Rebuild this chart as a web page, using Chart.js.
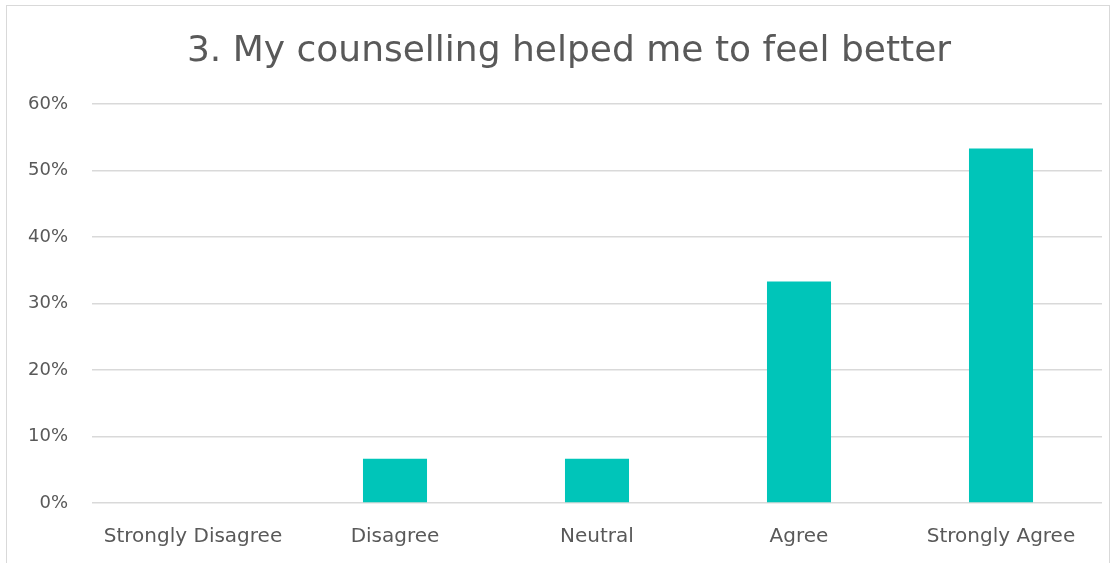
<!DOCTYPE html>
<html>
<head>
<meta charset="utf-8">
<script src="https://cdn.jsdelivr.net/npm/chart.js@4"></script>
<style>
  html, body { margin: 0; padding: 0; background: #fff; }
  #frame {
    position: absolute; left: 6px; top: 5px; width: 1104px; height: 600px;
    border: 1px solid #d9d9d9; box-sizing: border-box;
  }
  #wrap { position: absolute; left: 0; top: 0; width: 1119px; height: 563px; }
</style>
</head>
<body>
<div id="frame"></div>
<div id="wrap"><canvas id="myChart"></canvas></div>
<script>
const categories = ['Strongly Disagree', 'Disagree', 'Neutral', 'Agree', 'Strongly Agree'];
const percents = [0, 6.67, 6.67, 33.33, 53.33];
const yTicks = [0, 10, 20, 30, 40, 50, 60];
const chartTitle = '3. My counselling helped me to feel better';

const textColor = '#595959';
const fontFamily = '"DejaVu Sans", sans-serif';

const ctx = document.getElementById("myChart");

// the original title sits a bit right of centre
const nudgeTitle = {
    id: 'nudgeTitle',
    afterLayout(chart) {
        if (chart.titleBlock) chart.titleBlock.left += 36;
    }
};

new Chart(ctx, {
    type: 'bar',
    data: {
        labels: categories,
        datasets: [{
            label: 'Responses',
            data: percents,
            backgroundColor: '#00c5b9',
            borderWidth: 0,
            categoryPercentage: 1,
            barPercentage: 0.317
        }]
    },
    options: {
        responsive: true,
        maintainAspectRatio: false,
        animation: false,
        layout: { padding: { left: 0, right: 17, top: 0, bottom: 0 } },
        plugins: {
            legend: { display: false },
            tooltip: { enabled: false },
            title: {
                display: true,
                text: chartTitle,
                color: textColor,
                font: { family: fontFamily, size: 36, weight: 'normal', lineHeight: 1.2 },
                padding: { top: 30, bottom: 31 }
            }
        },
        scales: {
            x: {
                grid: { display: false },
                border: { display: false },
                ticks: {
                    color: textColor,
                    font: { family: fontFamily, size: 20 },
                    padding: 14,
                    maxRotation: 0
                },
                afterFit: (scale) => { scale.height = 60; }
            },
            y: {
                min: 0,
                max: 60,
                afterBuildTicks: (scale) => {
                    scale.ticks = yTicks.map(v => ({ value: v }));
                },
                grid: { color: '#d9d9d9', lineWidth: 1.5, drawTicks: false },
                border: { display: false },
                ticks: {
                    color: textColor,
                    font: { family: fontFamily, size: 18 },
                    padding: 24,
                    callback: (v) => v + '%'
                },
                afterFit: (scale) => { scale.width = 92; }
            }
        }
    },
    plugins: [nudgeTitle]
});
</script>
</body>
</html>
